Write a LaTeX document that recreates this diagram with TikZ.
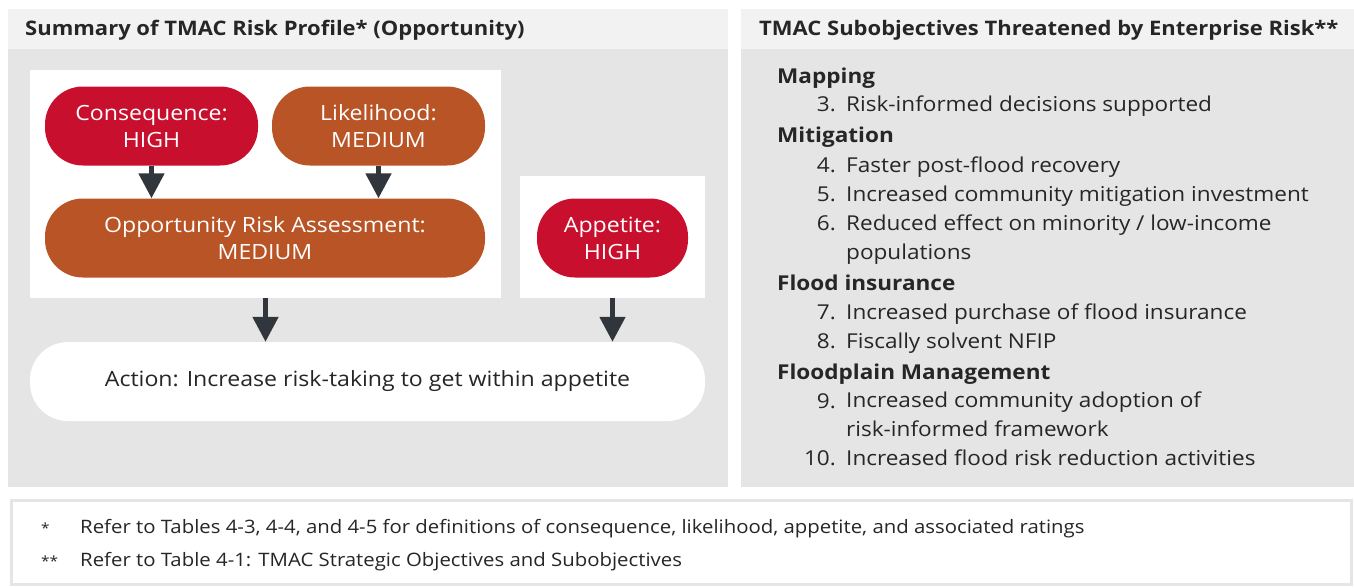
\documentclass[tikz,border=0pt]{standalone}
\usepackage{fontspec}
\setmainfont{Open Sans}[FakeStretch=1.1]
\usetikzlibrary{arrows.meta,positioning}
\definecolor{riskred}{HTML}{C8102E}
\definecolor{riskorange}{HTML}{B85425}
\definecolor{panelgray}{HTML}{E5E5E5}
\definecolor{headgray}{HTML}{F2F2F2}
\definecolor{arrowgray}{HTML}{30363B}
\definecolor{inkgray}{HTML}{262626}
\newcommand{\bodyfont}{\fontsize{20.5}{29}\selectfont}
\newcommand{\notefont}{\fontsize{18.5}{22}\selectfont}

\begin{document}
\begin{tikzpicture}[x=1pt, y=1pt,
    pill/.style={rectangle, rounded corners=38pt, minimum height=79pt, inner sep=0pt,
        align=center, text=white, font=\fontsize{21}{27}\selectfont},
    whitebox/.style={rectangle, fill=white, inner sep=0pt},
    flow/.style={draw=arrowgray, line width=5pt, -{Triangle[width=25pt,length=25pt]}},
    heading/.style={anchor=west, text=inkgray, inner sep=0pt, font=\bfseries\fontsize{20}{24}\selectfont},
    group/.style={anchor=base west, text=inkgray, font=\bfseries\bodyfont, inner sep=0pt},
    item/.style={anchor=base west, text=inkgray, font=\bodyfont, align=left, inner sep=0pt},
    num/.style={anchor=base east, text=inkgray, font=\bodyfont, inner sep=0pt},
    note/.style={anchor=base west, text=inkgray, font=\notefont, inner sep=0pt},
    star/.style={note, font=\fontsize{14}{16}\selectfont}]
    \useasboundingbox (0,0) rectangle (1354,-587);
    \fill[white] (0,0) rectangle (1354,-587);
    % panels
    \fill[headgray] (8,-9) rectangle (728,-49);
    \fill[panelgray] (8,-49) rectangle (728,-487);
    \fill[headgray] (741,-9) rectangle (1354,-49);
    \fill[panelgray] (741,-49) rectangle (1354,-487);
    \node[heading] (lefthead) at (25,-30) {Summary of TMAC Risk Profile* (Opportunity)};
    \node[heading] (righthead) at (759,-30) {TMAC Subobjectives Threatened by Enterprise Risk**};
    % risk profile
    \node[whitebox, minimum width=471pt, minimum height=228pt] (riskbox) at (265.5,-184) {};
    \node[whitebox, minimum width=185pt, minimum height=122pt] (appbox) at (612.5,-237) {};
    \node[pill, fill=riskred, minimum width=213pt] (cons) at (151.5,-126) {Consequence:\\HIGH};
    \node[pill, fill=riskorange, minimum width=213pt] (lik) at (378.5,-126) {Likelihood:\\MEDIUM};
    \node[pill, fill=riskorange, minimum width=440pt] (assess) at (265,-238) {Opportunity Risk Assessment:\\MEDIUM};
    \node[pill, fill=riskred, minimum width=151pt] (app) at (612.5,-238) {Appetite:\\HIGH};
    \node[pill, fill=white, text=inkgray, minimum width=675pt] (act) at (367.5,-381.5) {Action: Increase risk-taking to get within appetite};
    \draw[flow] (cons.south) -- (cons.south |- assess.north);
    \draw[flow] (lik.south) -- (lik.south |- assess.north);
    \draw[flow] (riskbox.south) -- (riskbox.south |- act.north);
    \draw[flow] (appbox.south) -- (appbox.south |- act.north);
    % subobjectives
    \foreach \n/\y/\t in {map/83/Mapping, mit/142/Mitigation, ins/290/Flood insurance, fpm/379/Floodplain Management}
        \node[group] (\n) at (777,-\y) {\t};
    % \b is the baseline of the last line of the item
    \foreach \n/\y/\b/\t in {3/111/111/Risk-informed decisions supported,
                          4/172/172/Faster post-flood recovery,
                          5/201/201/Increased community mitigation investment,
                          6/230/259/{Reduced effect on minority / low-income\\populations},
                          7/319/319/Increased purchase of flood insurance,
                          8/348/348/Fiscally solvent NFIP,
                          9/408/436/{Increased community adoption of\\risk-informed framework},
                          10/465/465/Increased flood risk reduction activities} {
        \node[num] (num\n) at (836,-\y) {\n.};
        \node[item] (sub\n) at (846,-\b) {\t};
    }
    % notes
    \node[draw=panelgray, line width=3pt, fill=white, minimum width=1340pt, minimum height=84pt] (notebox) at (681,-542) {};
    \node[star] (onestar) at (41,-533) {*};
    \node[note] (starnote) at (80,-533) {Refer to Tables 4-3, 4-4, and 4-5 for definitions of consequence, likelihood, appetite, and associated ratings};
    \node[star] (twostar) at (41,-566) {**};
    \node[note] (dstarnote) at (80,-566) {Refer to Table 4-1: TMAC Strategic Objectives and Subobjectives};
\end{tikzpicture}
\end{document}
